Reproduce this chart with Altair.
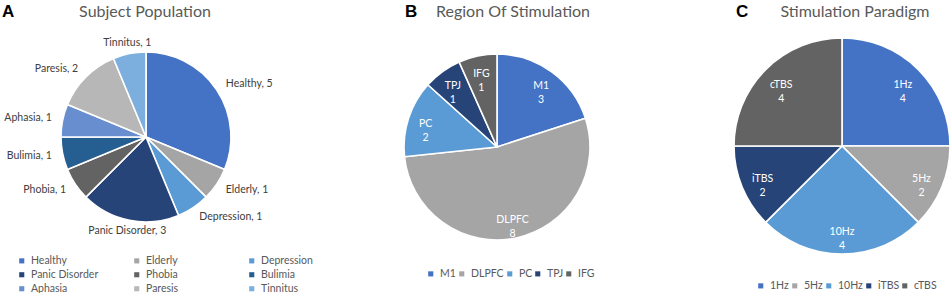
import math
import altair as alt
import pandas as pd

# ---------------- data ----------------
a_cats = ["Healthy", "Elderly", "Depression", "Panic Disorder", "Phobia",
          "Bulimia", "Aphasia", "Paresis", "Tinnitus"]
a_vals = [5, 1, 1, 3, 1, 1, 1, 2, 1]
a_colors = ["#4472C4", "#A5A5A5", "#5B9BD5", "#264478", "#636363",
            "#255E91", "#698ED0", "#B7B7B7", "#7CAFDD"]

b_cats = ["M1", "DLPFC", "PC", "TPJ", "IFG"]
b_vals = [3, 8, 2, 1, 1]

c_cats = ["1Hz", "5Hz", "10Hz", "iTBS", "cTBS"]
c_vals = [4, 2, 4, 2, 4]

bc_colors = ["#4472C4", "#A5A5A5", "#5B9BD5", "#264478", "#636363"]

titles = ["Subject Population", "Region Of Stimulation", "Stimulation Paradigm"]
letters = ["A", "B", "C"]

FONT = "Lato"
W, H = 950, 293


def pie_layers(cats, vals, colors, title, letter, cx, cy, r,
               title_x, letter_x, legend_kw, outside, label_r):
    df = pd.DataFrame({"cat": cats, "val": vals, "idx": list(range(len(cats)))})
    total = sum(vals)
    tscale = alt.Scale(domain=[0, total], range=[0, 2 * math.pi])
    base = alt.Chart(df)

    arcs = base.mark_arc(outerRadius=r, stroke="white", strokeWidth=1.6).encode(
        theta=alt.Theta("val:Q", stack=True, scale=tscale),
        color=alt.Color("cat:N", scale=alt.Scale(domain=cats, range=colors),
                        legend=alt.Legend(title=None, orient="none",
                                          symbolType="square", symbolSize=26,
                                          symbolStrokeWidth=0, labelFont=FONT,
                                          labelFontSize=10.5, labelColor="#595959",
                                          labelOffset=4, padding=0,
                                          direction="horizontal",
                                          **legend_kw)),
        order=alt.Order("idx:Q"),
        x=alt.value(cx), y=alt.value(cy),
    )

    lab = base.transform_window(
        cum="sum(val)", sort=[alt.SortField("idx")]
    ).transform_calculate(
        mid="datum.cum - datum.val / 2",
        s=f"sin(2 * PI * (datum.cum - datum.val / 2) / {total})",
    )
    layers = [arcs]
    if outside:
        lab = lab.transform_calculate(label="datum.cat + ', ' + datum.val")
        for cond, al in [("datum.s > 0.35", "left"), ("datum.s < -0.35", "right"),
                         ("abs(datum.s) <= 0.35", "center")]:
            layers.append(
                lab.transform_filter(cond).mark_text(
                    radius=label_r, align=al, baseline="middle", font=FONT,
                    fontSize=10.5, color="#404040"
                ).encode(
                    theta=alt.Theta("mid:Q", stack=None, scale=tscale),
                    text="label:N", x=alt.value(cx), y=alt.value(cy),
                )
            )
    else:
        lab = lab.transform_calculate(label="datum.cat + '\\n' + datum.val")
        layers.append(
            lab.mark_text(
                radius=label_r, align="center", baseline="middle", font=FONT,
                fontSize=10.5, color="white", lineBreak="\n", lineHeight=14
            ).encode(
                theta=alt.Theta("mid:Q", stack=None, scale=tscale),
                text="label:N", x=alt.value(cx), y=alt.value(cy),
            )
        )

    tdf = pd.DataFrame({"t": [title]})
    layers.append(
        alt.Chart(tdf).mark_text(font=FONT, fontSize=16, color="#595959",
                                 align="center", baseline="middle").encode(
            text="t:N", x=alt.value(title_x), y=alt.value(12))
    )
    ldf = pd.DataFrame({"t": [letter]})
    layers.append(
        alt.Chart(ldf).mark_text(font="Liberation Sans", fontSize=17, fontWeight="bold",
                                 color="black", align="left", baseline="middle").encode(
            text="t:N", x=alt.value(letter_x), y=alt.value(12))
    )
    return layers


la = pie_layers(a_cats, a_vals, a_colors, titles[0], letters[0],
                146, 137, 85, 145, 2,
                dict(legendX=16.5, legendY=255.5, columns=3, gridAlign="all",
                     columnPadding=33, rowPadding=3),
                True, 96)
lb = pie_layers(b_cats, b_vals, bc_colors, titles[1], letters[1],
                497, 147, 93, 513, 405,
                dict(legendX=425.5, legendY=268.5, columns=len(b_cats),
                     gridAlign="each", columnPadding=-8),
                False, 75)
lc = pie_layers(c_cats, c_vals, bc_colors, titles[2], letters[2],
                842, 146, 108, 855, 736,
                dict(legendX=755.5, legendY=280.5, columns=len(c_cats),
                     gridAlign="each", columnPadding=-1),
                False, 86)

chart = alt.layer(*(la + lb + lc)).resolve_scale(
    color="independent", theta="independent"
).properties(
    width=W, height=H, padding=0, background="white",
    autosize=alt.AutoSizeParams(type="none"),
).configure_view(stroke=None)

chart.save("out.html", embed_options={"renderer": "svg", "actions": False})
